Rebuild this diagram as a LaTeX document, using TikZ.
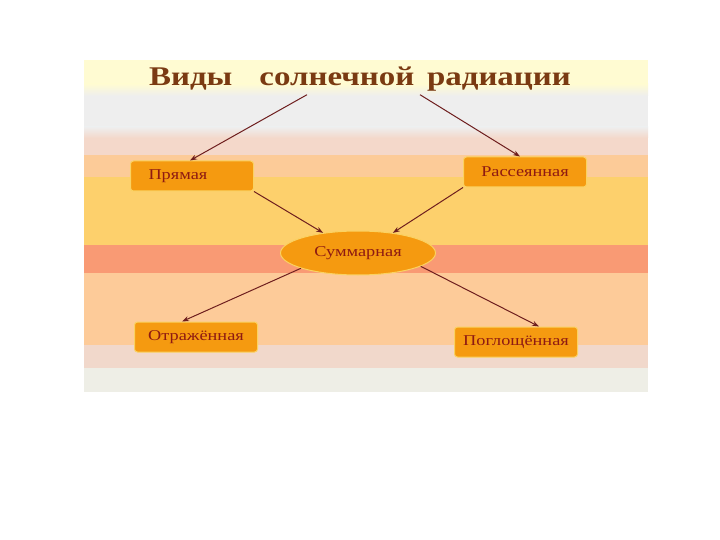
\documentclass[tikz,border=0pt]{standalone}
\usepackage{fontspec}
\setmainfont{Liberation Serif}
\newfontfamily\widefont[FakeStretch=1.22]{Liberation Serif}
\usetikzlibrary{shapes.geometric,arrows.meta}
\definecolor{bandA}{HTML}{FFFBD2}
\definecolor{bandB}{HTML}{EEEEEE}
\definecolor{bandC}{HTML}{F4D8CA}
\definecolor{bandD}{HTML}{FCCB98}
\definecolor{bandE}{HTML}{FDD06C}
\definecolor{bandF}{HTML}{F99A74}
\definecolor{bandG}{HTML}{FDCB99}
\definecolor{bandH}{HTML}{F1D8CB}
\definecolor{bandI}{HTML}{EEEEE6}
\definecolor{boxfill}{HTML}{F59A10}
\definecolor{boxline}{HTML}{FAD262}
\definecolor{txtred}{HTML}{8E1A12}
\definecolor{titlebrown}{HTML}{7A3A12}
\definecolor{linkred}{HTML}{6E1E1E}
\begin{document}
\begin{tikzpicture}[x=1pt,y=-1pt,
  box/.style={draw=boxline, line width=1pt, fill=boxfill, rounded corners=3pt,
    minimum width=123pt, minimum height=30pt, text=txtred,
    font=\widefont\fontsize{15}{17}\selectfont},
  link/.style={draw=linkred, line width=1pt, -{Stealth[length=7pt,width=5pt]}}]
\useasboundingbox (0,0) rectangle (720,540);
% background bands
\fill[white] (0,0) rectangle (720,540);
\fill[bandA] (84,60) rectangle (648,84);
\shade[top color=bandA, bottom color=bandB] (84,84) rectangle (648,96);
\fill[bandB] (84,96) rectangle (648,127);
\shade[top color=bandB, bottom color=bandC] (84,127) rectangle (648,138);
\fill[bandC] (84,138) rectangle (648,155);
\fill[bandD] (84,155) rectangle (648,177);
\fill[bandE] (84,177) rectangle (648,245);
\fill[bandF] (84,245) rectangle (648,273);
\fill[bandG] (84,273) rectangle (648,345);
\fill[bandH] (84,345) rectangle (648,368);
\fill[bandI] (84,368) rectangle (648,392);
% nodes
\node[text=titlebrown, font=\widefont\bfseries\fontsize{27}{30}\selectfont] (title) at (360,79) {Виды\quad солнечной\, радиации};
\node[box, text width=87pt, inner xsep=18pt, align=left] (pr) at (192,176) {Прямая};
\node[box] (rs) at (525,172) {Рассеянная};
\node[ellipse, draw=boxline, line width=1pt, fill=boxfill, text=txtred,
  minimum width=155pt, minimum height=44pt, inner sep=0pt,
  font=\widefont\fontsize{15}{17}\selectfont] (sm) at (358,253) {Суммарная};
\node[box] (ot) at (196,337) {Отражённая};
\node[box] (pg) at (516,342) {Поглощённая};
% connectors
\draw[link] ([xshift=-53pt]title.south) -- ([xshift=-2pt]pr.north);
\draw[link] ([xshift=60pt]title.south) -- ([xshift=-5pt]rs.north);
\draw[link] (pr.south east) -- (sm.150);
\draw[link] (rs.south west) -- (sm.30);
\draw[link] (sm.195) -- ([xshift=-14pt]ot.north);
\draw[link] (sm.-12) -- ([xshift=23pt]pg.north);
\end{tikzpicture}
\end{document}
